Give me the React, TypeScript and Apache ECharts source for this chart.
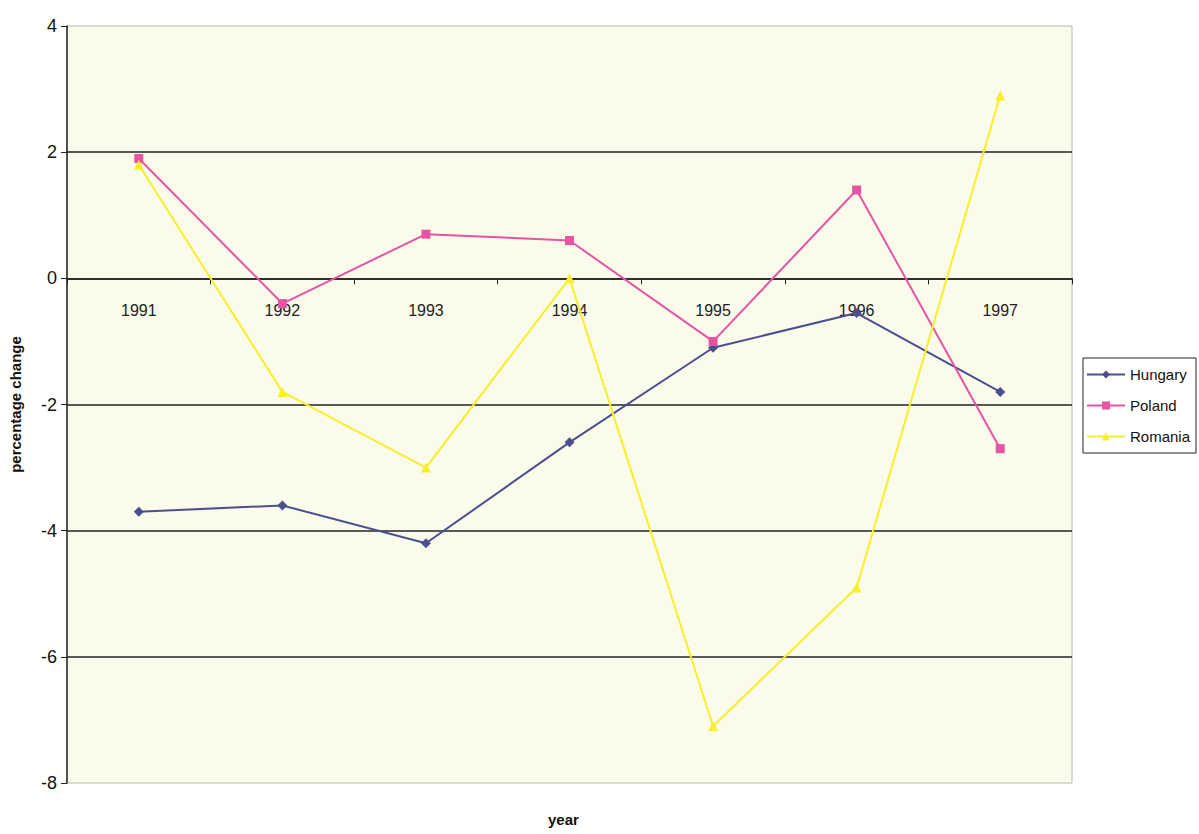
import React, { useEffect, useRef } from "react";
import * as echarts from "echarts";

const years = ["1991", "1992", "1993", "1994", "1995", "1996", "1997"];
const hungary = [-3.7, -3.6, -4.2, -2.6, -1.1, -0.55, -1.8];
const poland = [1.9, -0.4, 0.7, 0.6, -1.0, 1.4, -2.7];
const romania = [1.8, -1.8, -3.0, 0.0, -7.1, -4.9, 2.9];

const FONT = "Liberation Sans, Arial, sans-serif";

const GRID_TOP = 26;
const GRID_HEIGHT = 757;
const Y_MIN = -8;
const Y_MAX = 4;
// distance from the bottom of the plot up to the zero line, where the year axis sits
const ZERO_OFFSET = (GRID_HEIGHT * (0 - Y_MIN)) / (Y_MAX - Y_MIN);

export default function App() {
  const ref = useRef<HTMLDivElement>(null);

  useEffect(() => {
    if (!ref.current) return;
    const chart = echarts.init(ref.current, undefined, { renderer: "svg" });
    const line = (name: string, data: number[], color: string, symbol: string, size: number) => ({
      name,
      type: "line",
      data,
      symbol,
      symbolSize: size,
      lineStyle: { color, width: 2 },
      itemStyle: { color },
      z: 3,
    });
    chart.setOption({
      animation: false,
      backgroundColor: "#ffffff",
      textStyle: { fontFamily: FONT },
      grid: {
        left: 63,
        top: GRID_TOP,
        width: 1009,
        height: GRID_HEIGHT,
        show: true,
        backgroundColor: "#FBFBEB",
        borderColor: "#b8b8a8",
        borderWidth: 1,
      },
      legend: {
        orient: "vertical",
        left: 1083,
        top: 358,
        backgroundColor: "#ffffff",
        borderColor: "#222222",
        borderWidth: 1,
        borderRadius: 0,
        padding: [9, 6, 9, 3],
        itemGap: 16,
        itemWidth: 38,
        itemHeight: 10,
        textStyle: { fontSize: 15, color: "#111", fontFamily: FONT },
        data: ["Hungary", "Poland", "Romania"],
      },
      xAxis: {
        type: "category",
        data: years,
        boundaryGap: true,
        position: "bottom",
        offset: -ZERO_OFFSET,
        axisLine: { onZero: false, lineStyle: { color: "#222", width: 1.5 } },
        axisTick: { show: true, length: 6, lineStyle: { color: "#222" } },
        axisLabel: { margin: 24, fontSize: 16, color: "#222", fontFamily: FONT },
        splitLine: { show: false },
      },
      yAxis: {
        type: "value",
        min: Y_MIN,
        max: Y_MAX,
        interval: 2,
        name: "percentage change",
        nameLocation: "middle",
        nameGap: 44,
        nameTextStyle: { fontSize: 15, fontWeight: "bold", color: "#111", fontFamily: FONT },
        axisLine: { show: true, lineStyle: { color: "#222", width: 1.5 } },
        axisTick: { show: true, length: 6, lineStyle: { color: "#222" } },
        axisLabel: { fontSize: 18, color: "#111", margin: 10, fontFamily: FONT },
        splitLine: {
          show: true,
          lineStyle: {
            color: ["transparent", "#222", "#222", "#222", "#222", "#222", "transparent"],
            width: 1.5,
          },
        },
      },
      graphic: [
        {
          type: "text",
          left: 548,
          top: 812,
          style: { text: "year", fontSize: 15, fontWeight: "bold", fill: "#111", fontFamily: FONT },
        },
      ],
      series: [
        line("Hungary", hungary, "#4B4F8E", "diamond", 10),
        line("Poland", poland, "#E655A3", "rect", 9),
        line("Romania", romania, "#F7EF2A", "triangle", 10),
      ],
    });
    return () => chart.dispose();
  }, []);

  return (
    <div
      ref={ref}
      style={{ position: "absolute", left: 0, top: 0, width: 1199, height: 834 }}
    />
  );
}
